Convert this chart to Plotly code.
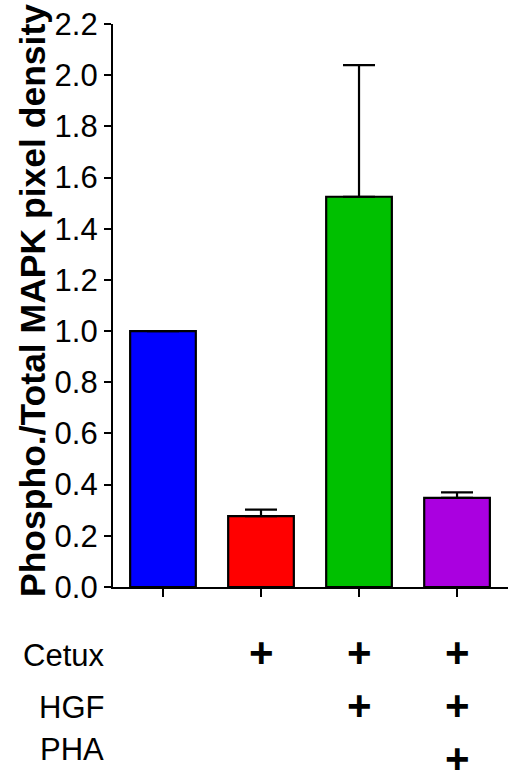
import plotly.graph_objects as go

# Data
conditions = ["Control", "Cetux", "Cetux+HGF", "Cetux+HGF+PHA"]
values = [1.0, 0.277, 1.525, 0.348]
errors_up = [0.0, 0.025, 0.514, 0.022]
bar_colors = ["#0000FF", "#FF0000", "#00C000", "#AA00E0"]

y_ticks = [0.0, 0.2, 0.4, 0.6, 0.8, 1.0, 1.2, 1.4, 1.6, 1.8, 2.0, 2.2]
y_tick_labels = ["0.0", "0.2", "0.4", "0.6", "0.8", "1.0", "1.2", "1.4", "1.6", "1.8", "2.0", "2.2"]

row_labels = ["Cetux", "HGF", "PHA"]
cetux_flags = ["", "+", "+", "+"]
hgf_flags = ["", "", "+", "+"]
pha_flags = ["", "", "", "+"]
flag_rows = [cetux_flags, hgf_flags, pha_flags]

FONT = "Liberation Sans, Arial, sans-serif"
xs = list(range(len(conditions)))

fig = go.Figure()
fig.add_trace(go.Bar(
    x=xs, y=values,
    width=0.67,
    marker=dict(color=bar_colors, line=dict(color="black", width=2.2)),
    error_y=dict(type="data", symmetric=False, array=errors_up,
                 arrayminus=[0] * len(values),
                 color="black", thickness=2.2, width=16),
    showlegend=False,
))

W, H = 514, 776
ml, mr, mt, mb = 113, 6, 24, 189
pw = W - ml - mr
ph = H - mt - mb

def py(pix):
    return (H - mb - pix) / ph

def px(pix):
    return (pix - ml) / pw

annotations = []
# y-axis title
annotations.append(dict(
    text="<b>Phospho./Total MAPK pixel density</b>", textangle=-90,
    xref="paper", yref="paper", x=px(33), y=py(301),
    xanchor="center", yanchor="middle", showarrow=False,
    font=dict(family=FONT, size=35.5, color="black")))

row_label_y = [655, 707, 749]
row_plus_y = [652, 705, 758]
for i, lab in enumerate(row_labels):
    annotations.append(dict(
        text=lab, xref="paper", yref="paper", x=px(106), y=py(row_label_y[i]),
        xanchor="right", yanchor="middle", showarrow=False,
        font=dict(family=FONT, size=31, color="black")))
    for j, f in enumerate(flag_rows[i]):
        if f:
            annotations.append(dict(
                text="<b>" + f + "</b>", xref="x", yref="paper", x=xs[j], y=py(row_plus_y[i]),
                xanchor="center", yanchor="middle", showarrow=False,
                height=26, valign="middle",
                font=dict(family=FONT, size=42, color="black")))

fig.update_layout(
    width=W, height=H,
    margin=dict(l=ml, r=mr, t=mt, b=mb),
    plot_bgcolor="white", paper_bgcolor="white",
    font=dict(family=FONT, color="black"),
    bargap=0.33,
    annotations=annotations,
    xaxis=dict(
        range=[-0.51, 3.52], tickvals=xs, showticklabels=False,
        ticks="outside", ticklen=8, tickwidth=2, tickcolor="black",
        showline=True, linecolor="black", linewidth=2.2,
        showgrid=False, zeroline=False, fixedrange=True,
    ),
    yaxis=dict(
        range=[0, 2.2], tickvals=y_ticks, ticktext=y_tick_labels,
        ticks="outside", ticklen=7, tickwidth=2, tickcolor="black",
        showline=True, linecolor="black", linewidth=2.2,
        showgrid=False, zeroline=False,
        tickfont=dict(family=FONT, size=31, color="black"),
    ),
)

fig.write_html("out.html",
               config={"displayModeBar": False},
               post_script="document.body.style.margin='0';document.body.style.overflow='hidden';")
